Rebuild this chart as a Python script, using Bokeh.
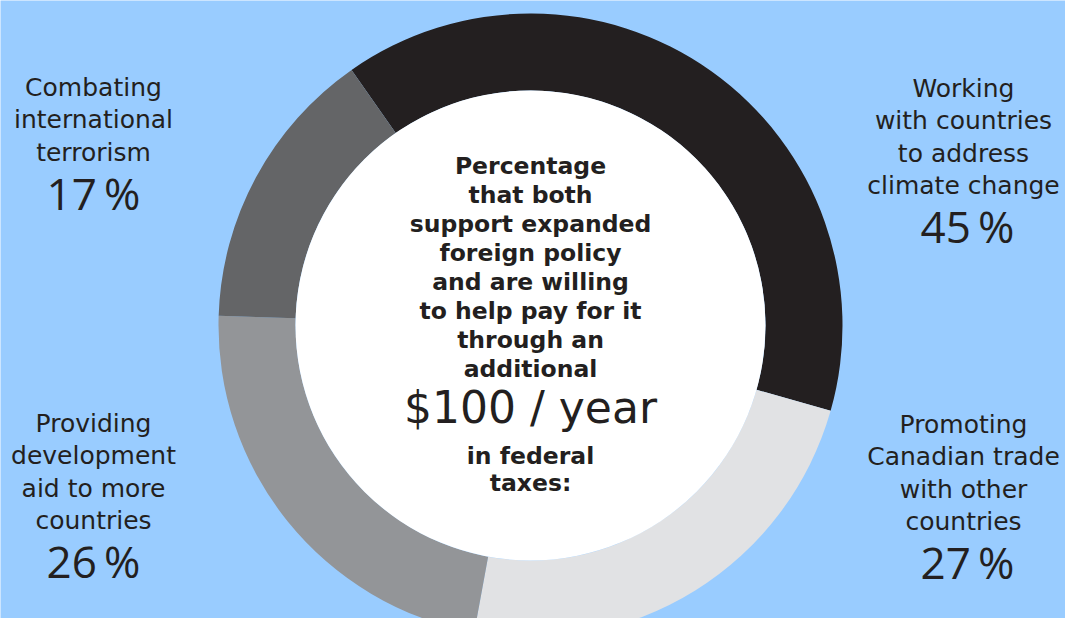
from bokeh.plotting import figure
from bokeh.models import Range1d, ColumnDataSource
from bokeh.core.properties import value
from bokeh.embed import file_html
from bokeh.resources import INLINE
import math

# ---- data ----
categories = [
    "Working\nwith countries\nto address\nclimate change",
    "Promoting\nCanadian trade\nwith other\ncountries",
    "Providing\ndevelopment\naid to more\ncountries",
    "Combating\ninternational\nterrorism",
]
percent = [45, 27, 26, 17]
colors = ["#231f20", "#e1e2e4", "#939598", "#646567"]
center_lines = ["Percentage", "that both", "support expanded", "foreign policy",
                "and are willing", "to help pay for it", "through an", "additional"]
center_amount = "$100 / year"
center_tail = ["in federal", "taxes:"]

# ---- layout (reference pixel space; y measured from top) ----
W, H = 1065, 618
PAGE_H = 634
def Y(py):
    return PAGE_H - py

CX, CY = 530, Y(325)
R_OUT, R_IN = 312, 235
START_DEG = 125.0
FONT = "DejaVu Sans"
PFONT = "Open Sans"
INK = "#231f20"
BG = "#99ccff"

p = figure(width=W, height=H, output_backend="svg", toolbar_location=None,
           x_range=Range1d(0, W), y_range=Range1d(PAGE_H - H, PAGE_H),
           x_axis_location=None, y_axis_location=None, min_border=0)
p.grid.visible = False
p.outline_line_color = None
p.background_fill_color = BG
p.border_fill_color = BG

total = sum(percent)
starts, ends = [], []
acc = 0.0
for v in percent:
    a0 = START_DEG - acc / total * 360.0
    acc += v
    a1 = START_DEG - acc / total * 360.0
    starts.append(math.radians(a0))
    ends.append(math.radians(a1))

src = ColumnDataSource(dict(x=[CX] * len(percent), y=[CY] * len(percent),
                            start=starts, end=ends, color=colors))
p.annular_wedge(x="x", y="y", inner_radius=R_IN, outer_radius=R_OUT,
                start_angle="start", end_angle="end", direction="clock",
                fill_color="color", line_color=None, source=src)
p.circle(x=[CX], y=[CY], radius=R_IN, fill_color="white", line_color=None)

# label anchors: (x center, first line y) in reference pixels
anchors = [(963, 88), (963, 424), (93, 423), (93, 87)]
PITCH = 32.3
for cat, pct, (ax, ay) in zip(categories, percent, anchors):
    lines = cat.split("\n")
    ys = [Y(ay + i * PITCH) for i in range(len(lines))]
    p.text(x=[ax] * len(lines), y=ys, text=lines, text_align="center",
           text_baseline="middle", text_font=value(FONT), text_font_size="25px",
           text_color=INK)
    py = ay + (len(lines) - 1) * PITCH + 41
    p.text(x=[ax + (4 if ax > CX else 0)], y=[Y(py)], text=[f"{pct}\u2009%"],
           text_align="center", text_baseline="middle", text_font=value(PFONT),
           text_font_size="44px", text_color=INK)

# center text
cl_y = [165 + i * 29.0 for i in range(len(center_lines))]
p.text(x=[CX] * len(center_lines), y=[Y(v) for v in cl_y], text=center_lines,
       text_align="center", text_baseline="middle", text_font=value(FONT),
       text_font_size="23.5px", text_font_style="bold", text_color=INK)
p.text(x=[CX], y=[Y(407)], text=[center_amount], text_align="center",
       text_baseline="middle", text_font=value(FONT), text_font_size="44px",
       text_color=INK)
ct_y = [455, 482]
p.text(x=[CX] * len(center_tail), y=[Y(v) for v in ct_y], text=center_tail,
       text_align="center", text_baseline="middle", text_font=value(FONT),
       text_font_size="23.5px", text_font_style="bold", text_color=INK)

html = file_html(p, INLINE)
html = html.replace("<body>", '<body style="background-color:#99ccff;">', 1)
open("out.html", "w").write(html)
